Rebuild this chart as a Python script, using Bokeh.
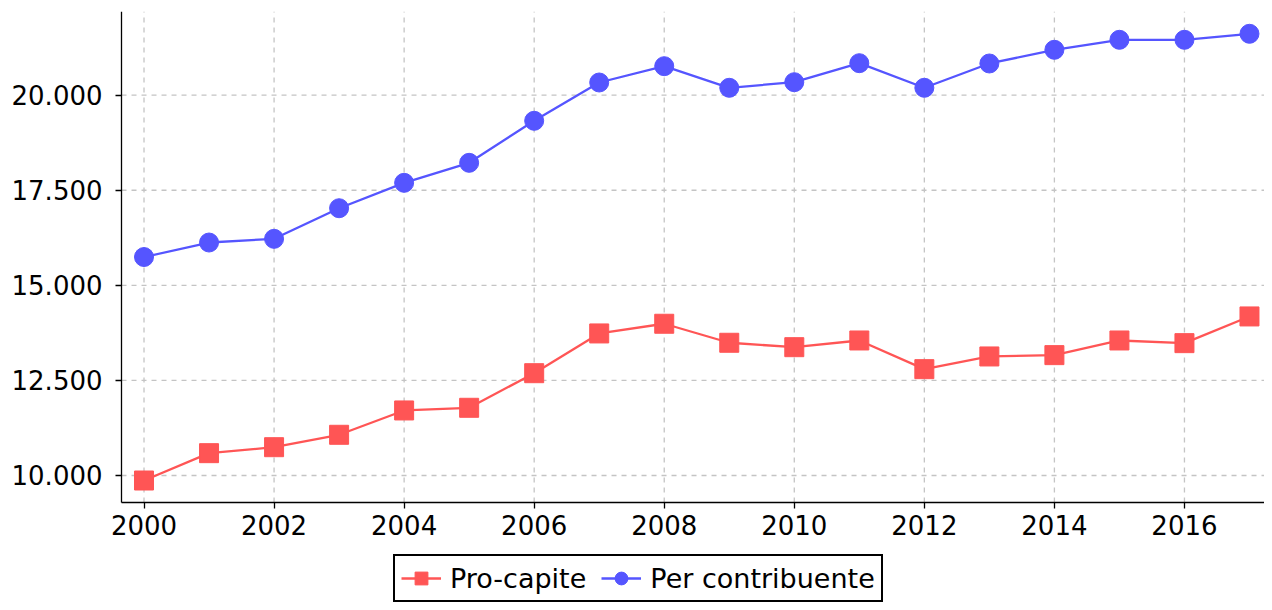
from bokeh.plotting import figure
from bokeh.models import FixedTicker, CustomJSTickFormatter, Range1d, Legend
from bokeh.embed import file_html
from bokeh.resources import INLINE

years = list(range(2000, 2018))
pro_capite = [9868, 10587, 10744, 11070, 11710, 11780, 12690, 13735, 13990, 13490,
              13374, 13550, 12796, 13130, 13165, 13550, 13480, 14182]
per_contribuente = [15745, 16126, 16223, 17028, 17696, 18222, 19327, 20334, 20763, 20195,
                    20342, 20842, 20195, 20834, 21194, 21457, 21457, 21615]
x_ticks = [2000, 2002, 2004, 2006, 2008, 2010, 2012, 2014, 2016]
y_ticks = [10000, 12500, 15000, 17500, 20000]

RED = "#ff5555"
BLUE = "#5555ff"
GRID = "#c4c4c4"
FONT = "DejaVu Sans"

# axis extents (data units)
X_AXIS_BASE = 1999.654
X_END = 2017.231
Y_AXIS_BASE = 9290
Y_TOP = 22201

p = figure(width=1264, height=602, output_backend="svg", toolbar_location=None,
           x_range=Range1d(1997.793, X_END), y_range=Range1d(6660, Y_TOP),
           min_border_left=0, min_border_right=0, min_border_top=11, min_border_bottom=0)
p.outline_line_color = None
p.background_fill_color = "white"
p.border_fill_color = "white"

for ax in (p.xaxis[0], p.yaxis[0]):
    ax.axis_line_color = "black"
    ax.axis_line_width = 1.3
    ax.major_tick_line_color = "black"
    ax.major_tick_line_width = 1.3
    ax.major_tick_out = 6
    ax.major_tick_in = 0
    ax.minor_tick_line_color = None
    ax.major_label_text_font = FONT
    ax.major_label_text_font_size = "26px"
    ax.major_label_text_color = "black"

p.xaxis.ticker = FixedTicker(ticks=x_ticks)
p.xaxis.fixed_location = Y_AXIS_BASE
p.xaxis.bounds = (X_AXIS_BASE, X_END)
p.yaxis.ticker = FixedTicker(ticks=y_ticks)
p.yaxis.fixed_location = X_AXIS_BASE
p.yaxis.bounds = (Y_AXIS_BASE, Y_TOP)
p.xaxis.major_label_standoff = 7
p.yaxis.major_label_standoff = 13
p.yaxis.formatter = CustomJSTickFormatter(
    code="return tick.toFixed(0).replace(/\\B(?=(\\d{3})+(?!\\d))/g, '.');")

p.xgrid.visible = False
p.ygrid.visible = False
p.segment(x0=x_ticks, y0=[Y_AXIS_BASE] * len(x_ticks), x1=x_ticks, y1=[Y_TOP] * len(x_ticks),
          line_color=GRID, line_dash="5 5", line_width=1.3, level="underlay")
p.segment(x0=[X_AXIS_BASE] * len(y_ticks), y0=y_ticks, x1=[X_END] * len(y_ticks), y1=y_ticks,
          line_color=GRID, line_dash="5 5", line_width=1.3, level="underlay")

l1 = p.line(years, pro_capite, color=RED, line_width=2.3)
s1 = p.scatter(years, pro_capite, marker="square", size=19, color=RED)
l2 = p.line(years, per_contribuente, color=BLUE, line_width=2.3)
s2 = p.scatter(years, per_contribuente, marker="circle", size=19, color=BLUE)

legend = Legend(items=[("Pro-capite", [l1, s1]), ("Per contribuente", [l2, s2])],
                orientation="horizontal", location=(393, 0))
legend.label_text_font = FONT
legend.label_text_font_size = "27px"
legend.label_text_color = "black"
legend.glyph_width = 40
legend.glyph_height = 32
legend.label_standoff = 9
legend.spacing = 15
legend.padding = 6
legend.margin = 0
legend.border_line_color = "black"
legend.border_line_width = 2
legend.border_line_alpha = 1
legend.background_fill_color = "white"
legend.background_fill_alpha = 1
p.add_layout(legend, "center")

open("out.html", "w").write(file_html(p, INLINE))
